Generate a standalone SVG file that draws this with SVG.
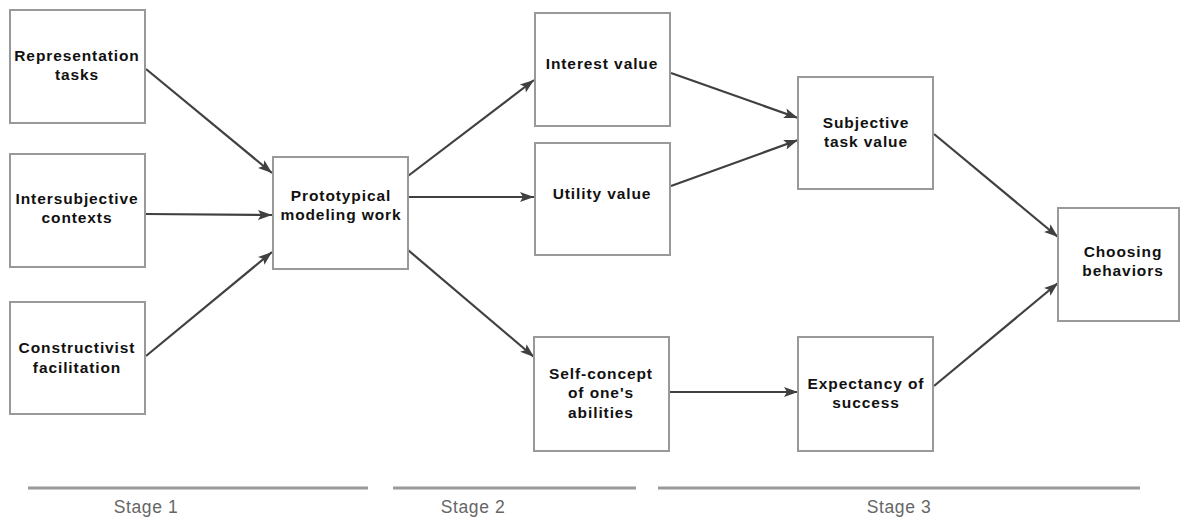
<svg xmlns="http://www.w3.org/2000/svg" width="1184" height="521" viewBox="0 0 1184 521">
<defs>
<style>
.box{fill:#fff;stroke:#999;stroke-width:2}
.lbl{font-family:"Liberation Sans",Arial,Helvetica,sans-serif;font-weight:bold;font-size:15.5px;letter-spacing:0.9px;fill:#111;text-anchor:middle}
.conn{stroke:#404040;stroke-width:2.2;fill:none;marker-end:url(#ah)}
.stage{stroke:#9a9a9a;stroke-width:3}
.stxt{font-family:"Liberation Sans",Arial,Helvetica,sans-serif;font-size:17.5px;letter-spacing:0.6px;fill:#666;text-anchor:middle}
</style>
<marker id="ah" markerUnits="userSpaceOnUse" markerWidth="16" markerHeight="12" refX="14" refY="5" orient="auto" viewBox="0 0 16 10">
<path d="M0,0 L14,5 L0,10 L3,5 Z" fill="#404040"/>
</marker>
</defs>
<g id="connectors">
<line class="conn" x1="146" y1="69" x2="272" y2="173"/>
<line class="conn" x1="146" y1="214" x2="272" y2="215"/>
<line class="conn" x1="146" y1="356" x2="272" y2="252"/>
<line class="conn" x1="408" y1="176" x2="534" y2="80"/>
<line class="conn" x1="408" y1="197" x2="534" y2="197"/>
<line class="conn" x1="408" y1="250" x2="534" y2="357"/>
<line class="conn" x1="671" y1="73" x2="798" y2="118"/>
<line class="conn" x1="671" y1="186" x2="798" y2="140"/>
<line class="conn" x1="669" y1="392" x2="798" y2="392"/>
<line class="conn" x1="934" y1="134" x2="1058" y2="237"/>
<line class="conn" x1="934" y1="386" x2="1058" y2="283"/>
</g>
<g id="n-representation">
<rect class="box" x="10" y="10" width="135" height="113"/>
<text class="lbl" x="77" y="61">Representation</text>
<text class="lbl" x="77" y="80">tasks</text>
</g>
<g id="n-intersubjective">
<rect class="box" x="10" y="154" width="135" height="113"/>
<text class="lbl" x="77" y="204">Intersubjective</text>
<text class="lbl" x="77" y="223">contexts</text>
</g>
<g id="n-constructivist">
<rect class="box" x="10" y="302" width="135" height="112"/>
<text class="lbl" x="77" y="353">Constructivist</text>
<text class="lbl" x="77" y="373">facilitation</text>
</g>
<g id="n-prototypical">
<rect class="box" x="273" y="157" width="135" height="112"/>
<text class="lbl" x="341" y="201">Prototypical</text>
<text class="lbl" x="341" y="220">modeling work</text>
</g>
<g id="n-interest">
<rect class="box" x="535" y="13" width="135" height="113"/>
<text class="lbl" x="602" y="69">Interest value</text>
</g>
<g id="n-utility">
<rect class="box" x="535" y="143" width="135" height="112"/>
<text class="lbl" x="602" y="199">Utility value</text>
</g>
<g id="n-selfconcept">
<rect class="box" x="534" y="337" width="135" height="114"/>
<text class="lbl" x="601" y="379">Self-concept</text>
<text class="lbl" x="601" y="398">of one's</text>
<text class="lbl" x="601" y="418">abilities</text>
</g>
<g id="n-subjective">
<rect class="box" x="798" y="77" width="135" height="112"/>
<text class="lbl" x="866" y="128">Subjective</text>
<text class="lbl" x="866" y="147">task value</text>
</g>
<g id="n-expectancy">
<rect class="box" x="798" y="337" width="135" height="114"/>
<text class="lbl" x="866" y="389">Expectancy of</text>
<text class="lbl" x="866" y="408">success</text>
</g>
<g id="n-choosing">
<rect class="box" x="1058" y="208" width="121" height="113"/>
<text class="lbl" x="1123" y="257">Choosing</text>
<text class="lbl" x="1123" y="276">behaviors</text>
</g>
<g id="stages">
<line class="stage" x1="28" y1="488" x2="368" y2="488"/>
<line class="stage" x1="393" y1="488" x2="636" y2="488"/>
<line class="stage" x1="658" y1="488" x2="1140" y2="488"/>
<text class="stxt" x="146" y="513">Stage 1</text>
<text class="stxt" x="473" y="513">Stage 2</text>
<text class="stxt" x="899" y="513">Stage 3</text>
</g>
</svg>
